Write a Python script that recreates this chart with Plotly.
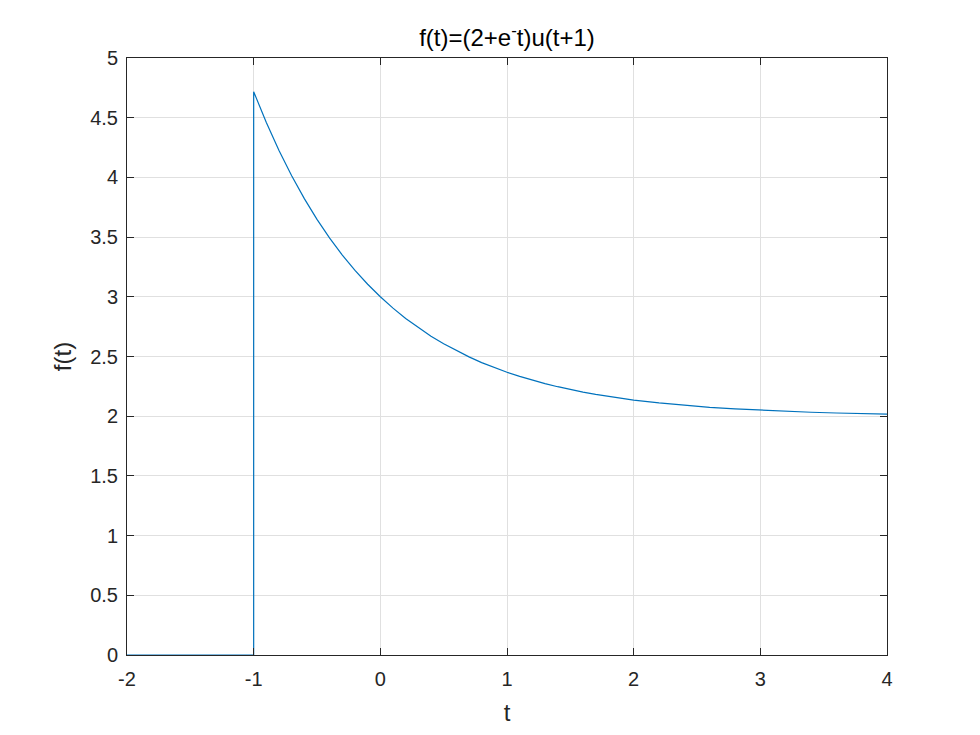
import plotly.graph_objects as go

# values
t_vals = [-2.0, -1.0, -1.0, -0.9, -0.8, -0.7, -0.6, -0.5, -0.4, -0.3, -0.2, -0.1,
          0.0, 0.1, 0.2, 0.3, 0.4, 0.5, 0.6, 0.7, 0.8, 0.9,
          1.0, 1.1, 1.2, 1.3, 1.4, 1.5, 1.6, 1.7, 1.8, 1.9,
          2.0, 2.2, 2.4, 2.6, 2.8, 3.0, 3.2, 3.4, 3.6, 3.8, 4.0]
f_vals = [0.0, 0.0, 4.718, 4.460, 4.226, 4.014, 3.822, 3.649, 3.492, 3.350, 3.221, 3.105,
          3.000, 2.905, 2.819, 2.741, 2.670, 2.607, 2.549, 2.497, 2.449, 2.407,
          2.368, 2.333, 2.301, 2.273, 2.247, 2.223, 2.202, 2.183, 2.165, 2.150,
          2.135, 2.111, 2.091, 2.074, 2.061, 2.050, 2.041, 2.033, 2.027, 2.022, 2.018]

x_ticks = [-2, -1, 0, 1, 2, 3, 4]
x_labels = ['-2', '-1', '0', '1', '2', '3', '4']
y_ticks = [0, 0.5, 1, 1.5, 2, 2.5, 3, 3.5, 4, 4.5, 5]
y_labels = ['0', '0.5', '1', '1.5', '2', '2.5', '3', '3.5', '4', '4.5', '5']

fig = go.Figure()
fig.add_trace(go.Scatter(
    x=t_vals, y=f_vals,
    mode='lines',
    line=dict(color='#0072BD', width=1.2),
    showlegend=False,
))

axis_common = dict(
    showline=True, linecolor='#262626', linewidth=1,
    mirror='ticks', ticks='inside', ticklen=7, tickcolor='#262626',
    showgrid=True, gridcolor='#e0e0e0', gridwidth=1,
    zeroline=False,
    tickfont=dict(family='Liberation Sans, Arial', size=20, color='#262626'),
)

fig.update_layout(
    width=980, height=735,
    paper_bgcolor='white', plot_bgcolor='white',
    margin=dict(l=119, r=101, t=50, b=88),
    font=dict(family='Liberation Sans, Arial', color='#262626'),
    title=dict(
        text='f(t)=(2+e<sup>-</sup>t)u(t+1)',
        x=0.5, xref='paper', xanchor='center',
        y=1, yref='paper', yanchor='bottom', pad=dict(b=12),
        font=dict(size=24, color='#000000'),
    ),
    xaxis=dict(
        range=[-2, 4], tickvals=x_ticks, ticktext=x_labels,
        title=dict(text='t', font=dict(size=24), standoff=15),
        ticklabelstandoff=6,
        **axis_common,
    ),
    yaxis=dict(
        range=[0, 5], tickvals=y_ticks, ticktext=y_labels,
        title=dict(text='f(t)', font=dict(size=24), standoff=11),
        ticklabelstandoff=4,
        **axis_common,
    ),
)

fig.write_html("out.html")
